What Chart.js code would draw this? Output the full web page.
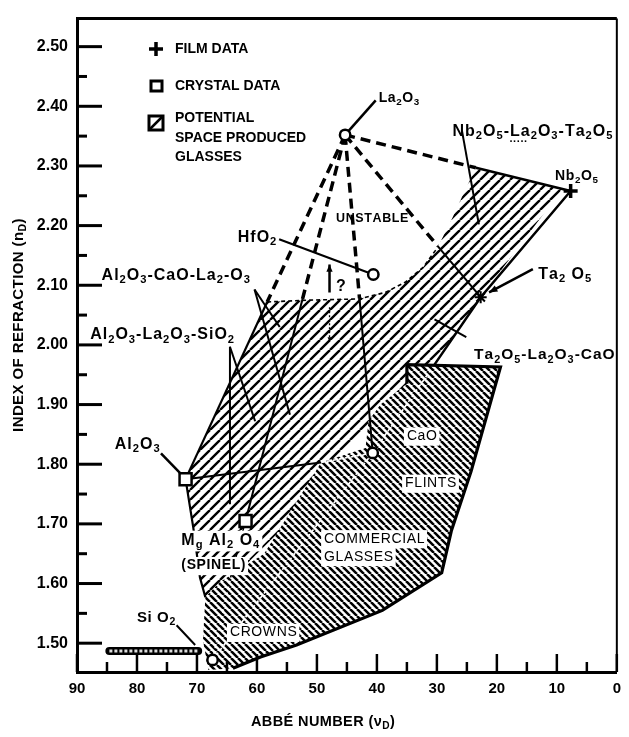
<!DOCTYPE html>
<html><head><meta charset="utf-8">
<script src="https://cdn.jsdelivr.net/npm/chart.js@4/dist/chart.umd.min.js"></script>
<style>html,body{margin:0;padding:0;background:#fff;}canvas{display:block;}</style>
</head><body>
<canvas id="c" width="629" height="737"></canvas>
<script>
// ---------- DATA ----------
const xTickValues = [90, 80, 70, 60, 50, 40, 30, 20, 10, 0];
const xMinorTicks = [85, 75, 65, 55, 45, 35, 25, 15, 5];
const yTickValues = [1.5, 1.6, 1.7, 1.8, 1.9, 2.0, 2.1, 2.2, 2.3, 2.4, 2.5];
const yMinorTicks = [1.55, 1.65, 1.75, 1.85, 1.95, 2.05, 2.15, 2.25, 2.35, 2.45];
const yTickLabels = ['1.50','1.60','1.70','1.80','1.90','2.00','2.10','2.20','2.30','2.40','2.50'];

// compounds: [Abbe number, index of refraction]
const LA2O3   = {x: 45.3, y: 2.352};
const HFO2    = {x: 40.6, y: 2.118};
const AL2O3   = {x: 71.9, y: 1.775};
const MGAL2O4 = {x: 61.9, y: 1.705};
const CAO     = {x: 40.7, y: 1.819};
const NB2O5   = {x: 7.7,  y: 2.258};
const TA2O5   = {x: 22.7, y: 2.080};
const SIO2    = {x: 67.4, y: 1.472};

const filmData    = [NB2O5];
const crystalData = [AL2O3, MGAL2O4];
const glassPoints = [LA2O3, HFO2, CAO, SIO2];

// "unstable" boundary (top of the potential glass region)
const unstableArc = [
  {x: 58.3, y: 2.072}, {x: 51.7, y: 2.075}, {x: 43.0, y: 2.077}, {x: 38.6, y: 2.088},
  {x: 35.3, y: 2.105}, {x: 32.3, y: 2.130}, {x: 29.9, y: 2.163}
];
const arcUpper = [{x: 29.9, y: 2.163}, {x: 27.4, y: 2.213}, {x: 25.5, y: 2.255}, {x: 23.5, y: 2.297}];

// potential space produced glasses
const potentialRegion = [
  AL2O3, ...unstableArc, ...arcUpper.slice(1), {x: 9.0, y: 2.262}, TA2O5,
  {x: 30.4, y: 1.967}, {x: 37.0, y: 1.900}, {x: 45.0, y: 1.830}, {x: 55.0, y: 1.700},
  {x: 65.0, y: 1.600}, {x: 68.6, y: 1.577}, {x: 69.5, y: 1.610}, {x: 70.6, y: 1.693}, AL2O3
];

// commercial glasses (crowns + flints)
const commercialRegion = [
  {x: 35.0, y: 1.967}, {x: 19.4, y: 1.963}, {x: 24.3, y: 1.788}, {x: 27.6, y: 1.688},
  {x: 29.2, y: 1.618}, {x: 39.1, y: 1.555}, {x: 53.4, y: 1.497}, {x: 59.4, y: 1.477},
  {x: 64.0, y: 1.458}, {x: 68.1, y: 1.455}, {x: 69.0, y: 1.505}, {x: 68.6, y: 1.577},
  {x: 66.2, y: 1.602}, {x: 58.8, y: 1.650}, {x: 49.3, y: 1.803}, {x: 41.9, y: 1.827},
  {x: 41.4, y: 1.872}, {x: 39.4, y: 1.900}, {x: 35.0, y: 1.935}, {x: 35.0, y: 1.967}
];
const commercialOutline = [
  {x: 35.0, y: 1.935}, {x: 35.0, y: 1.967}, {x: 19.4, y: 1.963}, {x: 24.3, y: 1.788},
  {x: 27.6, y: 1.688}, {x: 29.2, y: 1.618}, {x: 39.1, y: 1.555}, {x: 53.4, y: 1.497},
  {x: 59.4, y: 1.477}, {x: 64.0, y: 1.458}
];

// SiO2 bar
const sio2Bar = [{x: 84.6, y: 1.487}, {x: 69.8, y: 1.487}];

// ---------- helpers ----------
function makePattern(size, dir, lw, whiteBg) {
  const c = document.createElement('canvas');
  c.width = c.height = size;
  const g = c.getContext('2d');
  if (whiteBg) { g.fillStyle = '#fff'; g.fillRect(0, 0, size, size); }
  g.strokeStyle = '#000'; g.lineWidth = lw;
  g.beginPath();
  for (let k = -1; k <= 1; k++) {
    if (dir === '/') { g.moveTo(k * size, size); g.lineTo(k * size + size, 0); }
    else { g.moveTo(k * size, 0); g.lineTo(k * size + size, size); }
  }
  g.stroke();
  return g.createPattern(c, 'repeat');
}
const lightHatch = makePattern(10, '/', 2.4, true);
const denseHatch = makePattern(7, '\\', 2.5, true);

function seg(data, opts) {
  return Object.assign({
    data, showLine: true, pointRadius: 0, borderColor: '#000', borderWidth: 2,
    fill: false, order: 40, tension: 0
  }, opts || {});
}
const DASH = [10, 6];
const WHITE_DOT = {borderColor: '#fff', borderWidth: 1.6, borderDash: [3, 3], order: 50};

const datasets = [
  // regions
  seg(potentialRegion, {fill: 'shape', backgroundColor: lightHatch, borderColor: 'rgba(0,0,0,0)', borderWidth: 1, order: 100}),
  seg(commercialRegion, {fill: 'shape', backgroundColor: denseHatch, borderColor: 'rgba(0,0,0,0)', borderWidth: 1, order: 90}),
  seg(commercialOutline, {borderWidth: 3.2, order: 45}),

  // tie lines from La2O3 (dashed above the unstable boundary, solid below)
  seg([LA2O3, {x: 58.3, y: 2.072}], {borderWidth: 3.5, borderDash: DASH}),
  seg([{x: 58.3, y: 2.072}, AL2O3], {borderWidth: 2.2}),
  seg([LA2O3, {x: 52.4, y: 2.077}], {borderWidth: 3.5, borderDash: DASH}),
  seg([{x: 52.4, y: 2.077}, MGAL2O4], {borderWidth: 2}),
  seg([LA2O3, {x: 42.9, y: 2.078}], {borderWidth: 3.5, borderDash: DASH}),
  seg([{x: 42.9, y: 2.078}, CAO], {borderWidth: 2}),
  seg([LA2O3, {x: 29.9, y: 2.166}], {borderWidth: 3.5, borderDash: DASH}),
  seg([{x: 29.9, y: 2.166}, TA2O5], {borderWidth: 2}),
  seg([LA2O3, {x: 23.5, y: 2.297}], {borderWidth: 3.5, borderDash: DASH}),
  seg([{x: 23.5, y: 2.297}, NB2O5], {borderWidth: 2.5}),
  // right edge Nb2O5 - Ta2O5 - commercial
  seg([NB2O5, TA2O5, {x: 30.4, y: 1.967}], {borderWidth: 2.5}),
  // unstable boundary
  seg(unstableArc, {borderWidth: 1.6, borderDash: [4, 3]}),
  // left edge below Al2O3
  seg([AL2O3, {x: 70.6, y: 1.693}, {x: 69.5, y: 1.610}, {x: 68.6, y: 1.577}], {borderWidth: 2.2}),
  // Al2O3 - CaO
  seg([AL2O3, {x: 49.3, y: 1.803}], {borderWidth: 2}),
  seg([{x: 49.3, y: 1.803}, CAO], WHITE_DOT),
  // SiO2 - CaO - Ta2O5 line through the commercial region
  seg([SIO2, CAO, {x: 30.4, y: 1.967}], WHITE_DOT),
  seg([SIO2, {x: 64.4, y: 1.610}], WHITE_DOT),
  seg([{x: 64.4, y: 1.610}, MGAL2O4], {borderWidth: 1.5}),

  // pointer lines
  seg([{x: 40.2, y: 2.410}, LA2O3], {borderWidth: 2.5}),
  seg([{x: 56.3, y: 2.177}, HFO2], {borderWidth: 2.2}),
  seg([{x: 60.4, y: 2.093}, {x: 56.2, y: 2.030}], {borderWidth: 2}),
  seg([{x: 60.4, y: 2.093}, {x: 54.5, y: 1.883}], {borderWidth: 2}),
  seg([{x: 64.5, y: 1.997}, {x: 64.5, y: 1.733}], {borderWidth: 2}),
  seg([{x: 64.5, y: 1.997}, {x: 60.3, y: 1.872}], {borderWidth: 2}),
  seg([{x: 25.8, y: 2.358}, {x: 23.0, y: 2.202}], {borderWidth: 2}),
  seg([{x: 14.0, y: 2.127}, {x: 21.3, y: 2.088}], {borderWidth: 2.5}),
  seg([{x: 25.1, y: 2.013}, {x: 30.4, y: 2.043}], {borderWidth: 2}),
  seg([{x: 76.0, y: 1.818}, {x: 72.6, y: 1.783}], {borderWidth: 2.5}),
  seg([{x: 73.4, y: 1.530}, {x: 70.3, y: 1.497}], {borderWidth: 2}),
  seg([{x: 47.9, y: 2.088}, {x: 47.9, y: 2.135}], {borderWidth: 2.5}),
  seg([{x: 47.9, y: 2.063}, {x: 47.9, y: 2.005}], {borderWidth: 1.3, borderDash: [2, 2]}),

  // SiO2 bar
  seg(sio2Bar, {borderWidth: 8, borderCapStyle: 'round', order: 30}),
  seg(sio2Bar, {borderColor: '#ddd', borderWidth: 3, borderDash: [3, 2], order: 29}),

  // markers
  {data: glassPoints, showLine: false, pointStyle: 'circle', pointRadius: 5.2,
   pointBackgroundColor: '#fff', pointBorderColor: '#000', pointBorderWidth: 2.5, order: 2},
  {data: crystalData, showLine: false, pointStyle: 'rect', pointRadius: 8.5,
   pointBackgroundColor: '#fff', pointBorderColor: '#000', pointBorderWidth: 2.5, order: 2},
  {data: filmData, showLine: false, pointStyle: 'cross', pointRadius: 7,
   pointBorderColor: '#000', pointBorderWidth: 3.5, order: 2},
  {data: [TA2O5], showLine: false, pointStyle: 'star', pointRadius: 6,
   pointBorderColor: '#000', pointBorderWidth: 2, order: 2}
];

// text annotations (anchored in data coordinates, left aligned)
const annotations = [
  {t: 'La_2O_3', x: 39.7, y: 2.413, size: 14},
  {t: 'Nb_2O_5-La_2O_3-Ta_2O_5', x: 27.4, y: 2.358},
  {t: '.....', x: 17.9, y: 2.345, size: 11},
  {t: 'Nb_2O_5', x: 10.3, y: 2.283, size: 14},
  {t: 'UNSTABLE', x: 46.8, y: 2.212, size: 12.5},
  {t: 'HfO_2', x: 63.2, y: 2.180},
  {t: '?', x: 46.8, y: 2.097},
  {t: 'Al_2O_3-CaO-La_2-O_3', x: 85.9, y: 2.117},
  {t: 'Al_2O_3-La_2O_3-SiO_2', x: 87.8, y: 2.017},
  {t: 'Ta_2 O_5', x: 13.1, y: 2.118},
  {t: 'Ta_2O_5-La_2O_3-CaO', x: 23.8, y: 1.983, size: 15.5},
  {t: 'CaO', x: 35.0, y: 1.847, box: true, weight: 'normal', size: 14},
  {t: 'FLINTS', x: 35.3, y: 1.768, box: true, weight: 'normal', size: 14},
  {t: 'COMMERCIAL', x: 48.8, y: 1.675, box: true, weight: 'normal', size: 14},
  {t: 'GLASSES', x: 48.8, y: 1.645, box: true, weight: 'normal', size: 14},
  {t: 'Al_2O_3', x: 83.7, y: 1.833},
  {t: 'M_g Al_2 O_4', x: 72.6, y: 1.672, box: true},
  {t: '(SPINEL)', x: 72.6, y: 1.630, box: true, size: 14},
  {t: 'Si O_2', x: 80.0, y: 1.543, size: 15},
  {t: 'CROWNS', x: 64.5, y: 1.518, box: true, weight: 'normal', size: 14}
];

const FONT = '"Liberation Sans", Arial, sans-serif';

function parseRich(s) {
  const out = [];
  for (let i = 0; i < s.length; i++) {
    if (s[i] === '_' && i + 1 < s.length) { out.push({c: s[i + 1], sub: true}); i++; }
    else out.push({c: s[i], sub: false});
  }
  return out;
}
function richDraw(ctx, s, x, y, size, weight, spacing, measureOnly) {
  const parts = parseRich(s);
  let cx = x;
  for (const p of parts) {
    const fs = p.sub ? size * 0.7 : size;
    ctx.font = `${weight} ${fs}px ${FONT}`;
    const w = ctx.measureText(p.c).width;
    if (!measureOnly) ctx.fillText(p.c, cx, p.sub ? y + size * 0.3 : y);
    cx += w + spacing;
  }
  return cx - x;
}

const figurePlugin = {
  id: 'figure',
  afterDatasetsDraw(chart) {
    const ctx = chart.ctx, xs = chart.scales.x, ys = chart.scales.y;
    ctx.save();
    ctx.textBaseline = 'middle';
    ctx.fillStyle = '#000';
    for (const a of annotations) {
      const size = a.size || 16;
      const weight = a.weight || 'bold';
      const sp = size >= 15.5 ? 1 : 0.6;
      const px = xs.getPixelForValue(a.x), py = ys.getPixelForValue(a.y);
      const w = richDraw(ctx, a.t, px, py, size, weight, sp, true);
      if (a.box) {
        ctx.fillStyle = '#fff';
        ctx.fillRect(px - 3, py - size * 0.62, w + 5, size * 1.3);
        ctx.fillStyle = '#000';
      }
      richDraw(ctx, a.t, px, py, size, weight, sp, false);
    }
    // arrow heads
    const arrow = (tip, from, len) => {
      const tx = xs.getPixelForValue(tip.x), ty = ys.getPixelForValue(tip.y);
      const fx = xs.getPixelForValue(from.x), fy = ys.getPixelForValue(from.y);
      const a = Math.atan2(ty - fy, tx - fx);
      ctx.beginPath();
      ctx.moveTo(tx, ty);
      ctx.lineTo(tx - len * Math.cos(a - 0.4), ty - len * Math.sin(a - 0.4));
      ctx.lineTo(tx - len * Math.cos(a + 0.4), ty - len * Math.sin(a + 0.4));
      ctx.closePath(); ctx.fill();
    };
    arrow({x: 47.9, y: 2.135}, {x: 47.9, y: 2.088}, 8);
    arrow({x: 21.3, y: 2.088}, {x: 14.0, y: 2.127}, 9);
    arrow({x: 47.9, y: 2.005}, {x: 47.9, y: 2.063}, 5);
    ctx.restore();
  },
  afterDraw(chart) {
    const ctx = chart.ctx, xs = chart.scales.x, ys = chart.scales.y, ca = chart.chartArea;
    ctx.save();
    ctx.strokeStyle = '#000';
    ctx.lineCap = 'butt';
    // frame (top and right)
    ctx.lineWidth = 3;
    ctx.beginPath(); ctx.moveTo(ca.left, ca.top); ctx.lineTo(ca.right, ca.top); ctx.stroke();
    ctx.lineWidth = 2;
    ctx.beginPath(); ctx.moveTo(ca.right, ca.top); ctx.lineTo(ca.right, ca.bottom); ctx.stroke();
    // inward ticks
    ctx.lineWidth = 3;
    for (const v of yTickValues) {
      const p = ys.getPixelForValue(v);
      ctx.beginPath(); ctx.moveTo(ca.left, p); ctx.lineTo(ca.left + 25, p); ctx.stroke();
    }
    for (const v of yMinorTicks) {
      const p = ys.getPixelForValue(v);
      ctx.beginPath(); ctx.moveTo(ca.left, p); ctx.lineTo(ca.left + 10, p); ctx.stroke();
    }
    ctx.lineWidth = 2.5;
    for (const v of xTickValues) {
      const p = xs.getPixelForValue(v);
      ctx.beginPath(); ctx.moveTo(p, ca.bottom); ctx.lineTo(p, ca.bottom - 18); ctx.stroke();
    }
    for (const v of xMinorTicks) {
      const p = xs.getPixelForValue(v);
      ctx.beginPath(); ctx.moveTo(p, ca.bottom); ctx.lineTo(p, ca.bottom - 10); ctx.stroke();
    }
    // legend
    const lx = ca.left + 79;
    ctx.lineWidth = 3.5;
    ctx.beginPath(); ctx.moveTo(lx - 7, 49); ctx.lineTo(lx + 7, 49);
    ctx.moveTo(lx, 42); ctx.lineTo(lx, 56); ctx.stroke();
    ctx.lineWidth = 3;
    ctx.strokeRect(lx - 5, 81, 11, 10);
    ctx.strokeRect(lx - 7, 116, 14, 14);
    ctx.lineWidth = 2.5;
    ctx.beginPath(); ctx.moveTo(lx - 6, 129); ctx.lineTo(lx + 6, 117); ctx.stroke();
    ctx.fillStyle = '#000';
    ctx.textBaseline = 'middle';
    ctx.font = `bold 14px ${FONT}`;
    const tx = ca.left + 98;
    ctx.fillText('FILM DATA', tx, 49);
    ctx.fillText('CRYSTAL DATA', tx, 86);
    ctx.fillText('POTENTIAL', tx, 118);
    ctx.fillText('SPACE PRODUCED', tx, 138);
    ctx.fillText('GLASSES', tx, 157);
    // axis titles
    ctx.save();
    ctx.translate(19, 325);
    ctx.rotate(-Math.PI / 2);
    const tw = richDraw(ctx, 'INDEX OF REFRACTION (n_D)', 0, 0, 15, 'bold', 0.4, true);
    richDraw(ctx, 'INDEX OF REFRACTION (n_D)', -tw / 2, 0, 15, 'bold', 0.4, false);
    ctx.restore();
    const xw = richDraw(ctx, 'ABBÉ NUMBER (ν_D)', 0, 0, 14.5, 'bold', 0.4, true);
    richDraw(ctx, 'ABBÉ NUMBER (ν_D)', 323 - xw / 2, 722, 14.5, 'bold', 0.4, false);
    ctx.restore();
  }
};

new Chart(document.getElementById('c'), {
  type: 'scatter',
  data: {datasets},
  options: {
    responsive: false,
    animation: false,
    events: [],
    layout: {padding: {top: 15, right: 4, left: 0, bottom: 0}},
    plugins: {legend: {display: false}, tooltip: {enabled: false}},
    scales: {
      x: {
        type: 'linear', reverse: true, min: 0, max: 90,
        afterFit(s) { s.height = 65; },
        afterBuildTicks(s) { s.ticks = xTickValues.map(v => ({value: v})); },
        grid: {display: false, drawTicks: false},
        border: {display: true, width: 3, color: '#000'},
        ticks: {padding: 8, color: '#000', autoSkip: false, maxRotation: 0,
                font: {family: FONT, size: 15, weight: 'bold'},
                callback: v => String(v)}
      },
      y: {
        type: 'linear', min: 1.4517, max: 2.547,
        afterFit(s) { s.width = 77; },
        afterBuildTicks(s) { s.ticks = yTickValues.map(v => ({value: v})); },
        grid: {display: false, drawTicks: false},
        border: {display: true, width: 3, color: '#000'},
        ticks: {padding: 9, color: '#000', autoSkip: false,
                font: {family: FONT, size: 16, weight: 'bold'},
                callback: (v) => yTickLabels[yTickValues.findIndex(t => Math.abs(t - v) < 1e-6)]}
      }
    }
  },
  plugins: [figurePlugin]
});
</script>
</body></html>
